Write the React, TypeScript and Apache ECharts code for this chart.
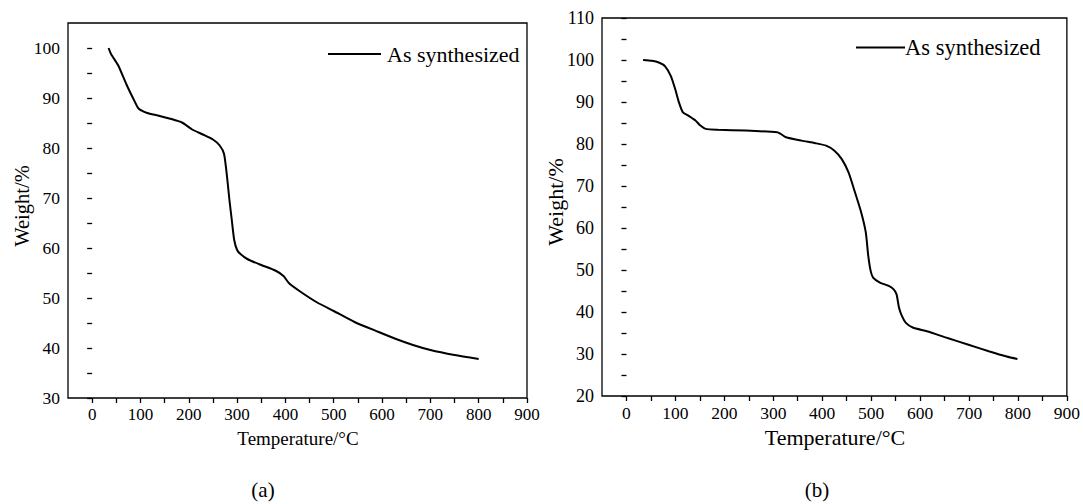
import React, { useEffect, useRef } from "react";
import * as echarts from "echarts";

// ---- data ----
const tempA = [34, 39, 54, 71, 86, 96, 114, 136, 164, 186, 207, 229, 250, 264, 273, 279, 284, 289, 294, 300, 307, 321, 350, 379, 396, 407, 429, 464, 500, 543, 593, 629, 664, 700, 750, 800];
const weightA = [100, 98.8, 96.5, 92.7, 89.7, 87.9, 87.0, 86.5, 85.8, 85.1, 83.7, 82.7, 81.7, 80.5, 78.8, 74.4, 69.7, 65.6, 61.6, 59.6, 58.8, 57.8, 56.6, 55.5, 54.4, 53.0, 51.4, 49.2, 47.4, 45.2, 43.2, 41.8, 40.6, 39.6, 38.6, 37.8];

const tempB = [34, 52, 66, 79, 91, 100, 107, 115, 127, 141, 151, 162, 187, 244, 308, 315, 326, 358, 386, 408, 425, 440, 454, 464, 479, 489, 494, 499, 504, 518, 536, 546, 552, 557, 563, 571, 585, 614, 656, 699, 742, 777, 799];
const weightB = [100, 99.8, 99.4, 98.5, 96.1, 92.9, 90.0, 87.6, 86.7, 85.6, 84.4, 83.6, 83.4, 83.2, 82.8, 82.4, 81.6, 80.8, 80.2, 79.6, 78.4, 76.4, 73.2, 69.6, 64.0, 59.0, 53.5, 49.8, 48.2, 47.0, 46.2, 45.4, 44.2, 41.0, 39.0, 37.4, 36.3, 35.4, 33.8, 32.2, 30.6, 29.4, 28.8];

const xMajorTicks = [0, 100, 200, 300, 400, 500, 600, 700, 800, 900];
const xMinorTicks = [50, 150, 250, 350, 450, 550, 650, 750, 850];
const yMajorTicksA = [30, 40, 50, 60, 70, 80, 90, 100];
const yMinorTicksA = [35, 45, 55, 65, 75, 85, 95];
const yMajorTicksB = [20, 30, 40, 50, 60, 70, 80, 90, 100, 110];
const yMinorTicksB = [25, 35, 45, 55, 65, 75, 85, 95, 105];

const seriesName = "As synthesized";
const xName = "Temperature/°C";
const yName = "Weight/%";
const panelLabels = ["(a)", "(b)"];

const FONT = "Liberation Serif";

const labelFormatter = (allowed: number[]) => (v: number) =>
  allowed.some((a) => Math.abs(a - v) < 1e-6) ? String(Math.round(v)) : "";

export default function App() {
  const ref = useRef<HTMLDivElement>(null);
  useEffect(() => {
    if (!ref.current) return;
    const chart = echarts.init(ref.current, null, { renderer: "svg" });
    const toPairs = (xs: number[], ys: number[]) => xs.map((x, i) => [x, ys[i]]);
    const tick = (vals: number[]) => ({ show: true, length: 5, customValues: vals, lineStyle: { color: "#000", width: 1.3 } });
    chart.setOption({
      animation: false,
      grid: [
        { left: 68, top: 23, width: 459, height: 375, show: true, borderColor: "#000", borderWidth: 1.3 },
        { left: 602, top: 18, width: 466, height: 378, show: true, borderColor: "#000", borderWidth: 1.3 },
      ],
      xAxis: [
        {
          type: "value",
          gridIndex: 0,
          min: -50,
          max: 900,
          interval: 50,
          axisLine: { show: false },
          axisTick: tick([...xMajorTicks, ...xMinorTicks]),
          axisLabel: { color: "#000", fontSize: 17, fontFamily: FONT, formatter: labelFormatter(xMajorTicks) },
          splitLine: { show: false },
        },
        {
          type: "value",
          gridIndex: 1,
          min: -50,
          max: 900,
          interval: 50,
          axisLine: { show: false },
          axisTick: tick([...xMajorTicks, ...xMinorTicks]),
          axisLabel: { color: "#000", fontSize: 17.5, fontFamily: FONT, formatter: labelFormatter(xMajorTicks) },
          splitLine: { show: false },
        },
      ],
      yAxis: [
        {
          type: "value",
          gridIndex: 0,
          min: 30,
          max: 105,
          interval: 5,
          axisLine: { show: false },
          axisTick: tick([...yMajorTicksA, ...yMinorTicksA]),
          axisLabel: { color: "#000", fontSize: 17.5, fontFamily: FONT, formatter: labelFormatter(yMajorTicksA) },
          splitLine: { show: false },
        },
        {
          type: "value",
          gridIndex: 1,
          min: 20,
          max: 110,
          interval: 5,
          axisLine: { show: false },
          axisTick: tick([...yMajorTicksB, ...yMinorTicksB]),
          axisLabel: { color: "#000", fontSize: 18, fontFamily: FONT, formatter: labelFormatter(yMajorTicksB) },
          splitLine: { show: false },
        },
      ],
      legend: [
        {
          left: 323,
          top: 38,
          data: [seriesName],
          icon: "rect",
          itemWidth: 53,
          itemHeight: 2,
          itemGap: 0,
          selectedMode: false,
          textStyle: { color: "#000", fontFamily: FONT, fontSize: 22, padding: [0, 0, 0, 1] },
        },
        {
          left: 851,
          top: 31,
          data: [seriesName],
          icon: "rect",
          itemWidth: 49,
          itemHeight: 2,
          itemGap: 0,
          selectedMode: false,
          textStyle: { color: "#000", fontFamily: FONT, fontSize: 22.5, padding: [0, 0, 0, -5] },
        },
      ],
      graphic: [
        { type: "text", x: 298, y: 438, style: { text: xName, fill: "#000", fontFamily: FONT, fontSize: 19, align: "center", verticalAlign: "middle" } },
        { type: "text", x: 835, y: 437, style: { text: xName, fill: "#000", fontFamily: FONT, fontSize: 22, align: "center", verticalAlign: "middle" } },
        { type: "text", x: 22, y: 206, rotation: Math.PI / 2, style: { text: yName, fill: "#000", fontFamily: FONT, fontSize: 20.5, align: "center", verticalAlign: "middle" } },
        { type: "text", x: 555, y: 202, rotation: Math.PI / 2, style: { text: yName, fill: "#000", fontFamily: FONT, fontSize: 22, align: "center", verticalAlign: "middle" } },
        { type: "text", x: 263, y: 490, style: { text: panelLabels[0], fill: "#000", fontFamily: FONT, fontSize: 21, align: "center", verticalAlign: "middle" } },
        { type: "text", x: 817, y: 490, style: { text: panelLabels[1], fill: "#000", fontFamily: FONT, fontSize: 21, align: "center", verticalAlign: "middle" } },
      ],
      series: [
        {
          name: seriesName,
          type: "line",
          xAxisIndex: 0,
          yAxisIndex: 0,
          data: toPairs(tempA, weightA),
          showSymbol: false,
          symbol: "none",
          smooth: 0.2,
          lineStyle: { color: "#000", width: 2 },
          itemStyle: { color: "#000" },
        },
        {
          name: seriesName,
          type: "line",
          xAxisIndex: 1,
          yAxisIndex: 1,
          data: toPairs(tempB, weightB),
          showSymbol: false,
          symbol: "none",
          smooth: 0.2,
          lineStyle: { color: "#000", width: 2 },
          itemStyle: { color: "#000" },
        },
      ],
    });
    return () => chart.dispose();
  }, []);
  return <div ref={ref} style={{ position: "fixed", left: 0, top: 0, width: 1083, height: 504, background: "#fff" }} />;
}
